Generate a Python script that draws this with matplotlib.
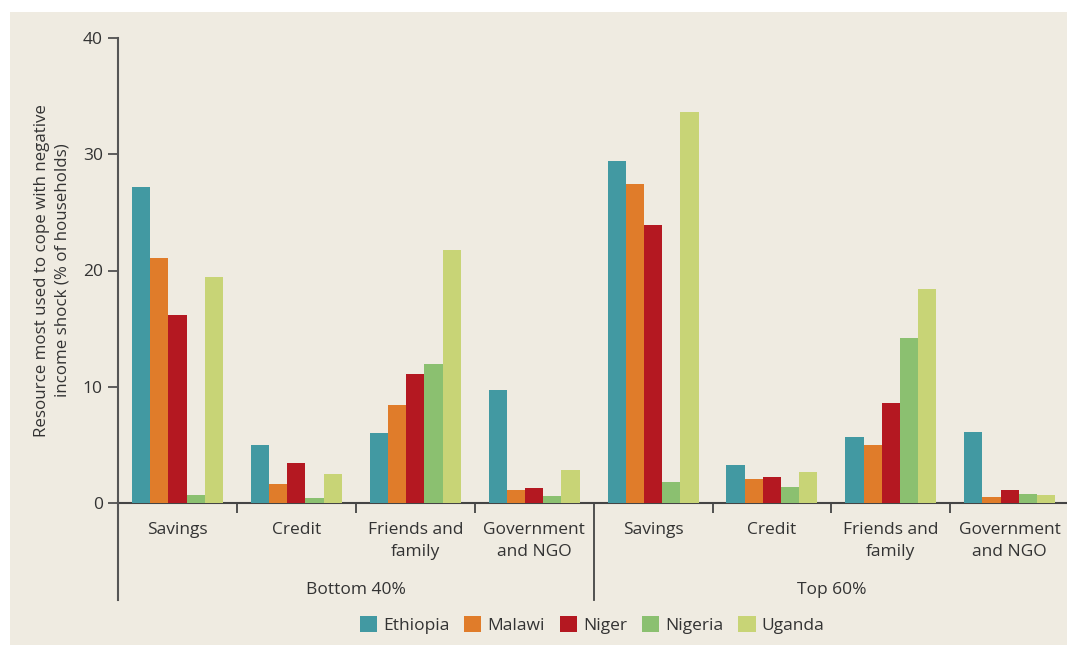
import matplotlib
matplotlib.use("Agg")
import matplotlib.pyplot as plt
import numpy as np
from matplotlib.patches import Rectangle, Patch
import matplotlib.transforms as mtransforms

plt.rcParams['font.family'] = ['Open Sans', 'DejaVu Sans']

categories = ["Savings", "Credit", "Friends and\nfamily", "Government\nand NGO"]
groups = ["Bottom 40%", "Top 60%"]
countries = ["Ethiopia", "Malawi", "Niger", "Nigeria", "Uganda"]
colors = ["#4299A2", "#E07C2A", "#B41821", "#8BC070", "#C8D476"]

# values per country: bottom 40% (4 categories) then top 60% (4 categories)
ethiopia = [27.2, 5.0, 6.0, 9.7, 29.4, 3.3, 5.7, 6.1]
malawi   = [21.1, 1.6, 8.4, 1.1, 27.4, 2.1, 5.0, 0.5]
niger    = [16.2, 3.4, 11.1, 1.3, 23.9, 2.2, 8.6, 1.1]
nigeria  = [0.7, 0.4, 12.0, 0.6, 1.8, 1.4, 14.2, 0.8]
uganda   = [19.4, 2.5, 21.8, 2.8, 33.6, 2.7, 18.4, 0.7]
series = [ethiopia, malawi, niger, nigeria, uganda]

yticks = [0, 10, 20, 30, 40]

W, H = 1067, 645
fig = plt.figure(figsize=(W / 100, H / 100), dpi=100, facecolor="white")
fig.patches.append(Rectangle((10 / W, 0), 1 - 10 / W, 1 - 12 / H,
                             transform=fig.transFigure, facecolor="#EFEBE1",
                             edgecolor="none", zorder=-10))

left_px, right_px, top_px, bot_px = 118, 1067, 38, 503
ax = fig.add_axes([left_px / W, 1 - bot_px / H, (right_px - left_px) / W, (bot_px - top_px) / H])
ax.set_facecolor("none")
ax.set_zorder(1)

xlabels = categories * len(groups)
n_cat = len(xlabels)
x = np.arange(n_cat)
cat_w = 118.9
bw = 18.2 / cat_w
for i, (vals, c, name) in enumerate(zip(series, colors, countries)):
    ax.bar(x + (i - 2) * bw, vals, width=bw, color=c, label=name, zorder=3)

ax.set_xlim(-0.5, -0.5 + (right_px - left_px) / cat_w)
ax.set_ylim(0, 40)
ax.set_yticks(yticks)
ax.tick_params(axis="y", length=7, width=1.2, color="#444444", labelsize=12.5,
               labelcolor="#333333", pad=4)

for s in ["top", "right"]:
    ax.spines[s].set_visible(False)
ax.spines["bottom"].set_color("#444444")
ax.spines["bottom"].set_linewidth(1.5)
ax.spines["left"].set_visible(False)

trans = mtransforms.blended_transform_factory(ax.transData, ax.transAxes)
depth = -(600 - bot_px) / (bot_px - top_px)
ax.plot([-0.5, -0.5], [depth, 1.0], transform=trans, color="#555555", lw=1.5, clip_on=False, zorder=4)
ax.plot([3.5, 3.5], [depth, 0], transform=trans, color="#444444", lw=1.3, clip_on=False, zorder=4)

ax.set_xticks(x)
ax.set_xticklabels(xlabels, fontsize=12.5, color="#333333", linespacing=1.45, va="top")
ax.tick_params(axis="x", length=0, pad=14)
ax.set_xticks([0.5, 1.5, 2.5, 4.5, 5.5, 6.5], minor=True)
ax.tick_params(axis="x", which="minor", length=7, width=1.3, color="#444444")

for gi, g in enumerate(groups):
    ax.text(gi * 4 + 1.5, -(590 - bot_px) / (bot_px - top_px), g, transform=trans,
            ha="center", va="center", fontsize=12.5, color="#333333")

ax.set_ylabel("Resource most used to cope with negative\nincome shock (% of households)",
              fontsize=12.2, color="#333333", linespacing=1.32, labelpad=9)

handles = [Patch(facecolor=c, edgecolor="none") for c in colors]
fig.legend(handles, countries, loc="center", bbox_to_anchor=(592 / W, 1 - 625 / H),
           ncol=5, frameon=False, fontsize=12.5, handlelength=1.0, handleheight=1.0,
           handletextpad=0.35, columnspacing=0.85, labelcolor="#333333")

fig.savefig("out.png", dpi=100, facecolor="white")
